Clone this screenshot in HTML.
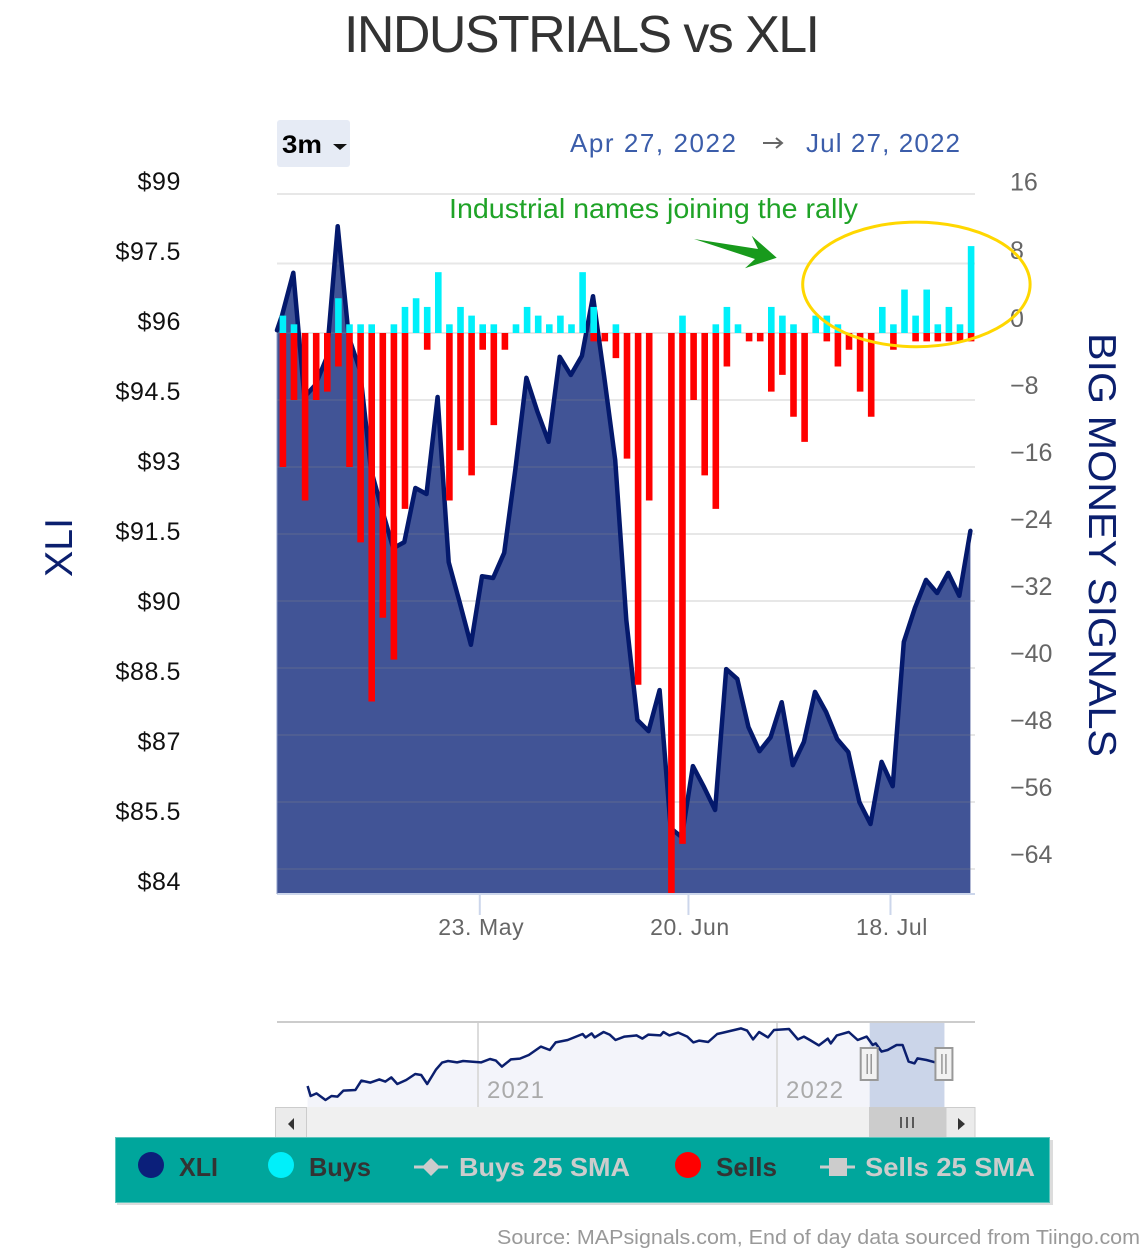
<!DOCTYPE html>
<html lang="en">
<head>
<meta charset="utf-8">
<title>INDUSTRIALS vs XLI</title>
<style>
html,body{margin:0;padding:0;background:#fff;width:1147px;height:1249px;overflow:hidden}
svg{display:block}
text{font-family:"Liberation Sans",sans-serif}
</style>
</head>
<body>
<svg id="chart" xmlns="http://www.w3.org/2000/svg" width="1147" height="1249" viewBox="0 0 1147 1249">
  <rect x="0" y="0" width="1147" height="1249" fill="#fff"/>
  <text x="344" y="52" font-size="52" fill="#333" textLength="476" lengthAdjust="spacing">INDUSTRIALS vs XLI</text>

  <g>
    <rect x="277" y="120" width="73" height="47" rx="3" fill="#e6ebf5"/>
    <text x="282" y="153" font-size="25" font-weight="bold" fill="#000" textLength="40" lengthAdjust="spacingAndGlyphs">3m</text>
    <polygon points="333,144 347,144 340,150" fill="#111"/>
  </g>
  <text x="570" y="152" font-size="26" fill="#3b5daa" textLength="166" lengthAdjust="spacing">Apr 27, 2022</text>
  <g stroke="#666" fill="none" stroke-width="2">
    <line x1="763" y1="143" x2="782" y2="143"/>
    <polyline points="776,138 782,143 776,148"/>
  </g>
  <text x="806" y="152" font-size="26" fill="#3b5daa" textLength="154" lengthAdjust="spacing">Jul 27, 2022</text>

  <g id="area-layer"></g>
  <g id="grid-layer"></g>
  <g id="line-layer"></g>
  <g id="bar-layer"></g>
  <g id="axis-layer"></g>

  <text x="449" y="218" font-size="28" fill="#1fa327" textLength="409" lengthAdjust="spacingAndGlyphs">Industrial names joining the rally</text>
  <polygon points="694,239 758,249 751.7,235.7 776.7,257.7 745,268.3 755,259" fill="#189a1c"/>
  <ellipse cx="916.4" cy="284.4" rx="113.7" ry="62.3" fill="none" stroke="#ffd700" stroke-width="3"/>

  <text transform="translate(72,577) rotate(-90)" font-size="39" fill="#0b1f6e" textLength="59" lengthAdjust="spacingAndGlyphs">XLI</text>
  <text transform="translate(1089,333) rotate(90)" font-size="39" fill="#0b1f6e" textLength="424" lengthAdjust="spacingAndGlyphs">BIG MONEY SIGNALS</text>

  <g id="nav-layer"></g>

  <g>
    <rect x="276" y="1107" width="699" height="30" fill="#f0f0f0"/>
    <rect x="275.5" y="1107.5" width="31" height="30" fill="#ebebeb" stroke="#ccc"/>
    <polygon points="294,1118 294,1130 288,1124" fill="#333"/>
    <rect x="869" y="1107" width="77" height="31" fill="#cccccc"/>
    <g stroke="#333" stroke-width="1.5">
      <line x1="901" y1="1117" x2="901" y2="1128"/>
      <line x1="907" y1="1117" x2="907" y2="1128"/>
      <line x1="913" y1="1117" x2="913" y2="1128"/>
    </g>
    <rect x="946" y="1107.5" width="29" height="30" fill="#ebebeb" stroke="#ccc"/>
    <polygon points="958,1118 958,1130 965,1124" fill="#333"/>
  </g>

  <g>
    <rect x="117" y="1140" width="936" height="65" fill="#dcdcdc"/>
    <rect x="115.5" y="1137.5" width="934" height="65" fill="#00a69c" stroke="#5cc4bc"/>
    <g>
      <circle cx="151" cy="1165" r="13" fill="#0b1f7a"/>
      <text x="179" y="1176" font-size="26" font-weight="bold" fill="#333" textLength="39" lengthAdjust="spacingAndGlyphs">XLI</text>
    </g>
    <g>
      <circle cx="281" cy="1165" r="13" fill="#00f0fa"/>
      <text x="309" y="1176" font-size="26" font-weight="bold" fill="#333" textLength="62" lengthAdjust="spacingAndGlyphs">Buys</text>
    </g>
    <g>
      <line x1="414" y1="1167" x2="448" y2="1167" stroke="#ccc" stroke-width="3"/>
      <polygon points="431,1158 440,1167 431,1176 422,1167" fill="#ccc"/>
      <text x="459" y="1176" font-size="26" font-weight="bold" fill="#ccc" textLength="171" lengthAdjust="spacingAndGlyphs">Buys 25 SMA</text>
    </g>
    <g>
      <circle cx="688" cy="1165" r="13" fill="#ff0000"/>
      <text x="716" y="1176" font-size="26" font-weight="bold" fill="#333" textLength="61" lengthAdjust="spacingAndGlyphs">Sells</text>
    </g>
    <g>
      <line x1="820" y1="1167" x2="855" y2="1167" stroke="#ccc" stroke-width="3"/>
      <rect x="829" y="1158" width="18" height="18" fill="#ccc"/>
      <text x="865" y="1176" font-size="26" font-weight="bold" fill="#ccc" textLength="170" lengthAdjust="spacingAndGlyphs">Sells 25 SMA</text>
    </g>
  </g>

  <text x="497" y="1244" font-size="20" fill="#999" textLength="643" lengthAdjust="spacingAndGlyphs">Source: MAPsignals.com, End of day data sourced from Tiingo.com</text>
</svg>

<script>
// Main chart data (one entry per trading day)
const priceLead = 96.08;
const prices = [96.41,97.31,94.65,94.91,95.49,98.31,95.93,95.23,93.09,92.23,91.41,91.54,92.70,92.57,94.65,91.11,90.24,89.34,90.81,90.77,91.31,93.09,95.06,94.33,93.69,95.51,95.12,95.53,96.81,95.10,93.30,89.87,87.73,87.49,88.37,85.41,85.22,86.74,86.29,85.80,88.82,88.61,87.58,87.06,87.36,88.11,86.76,87.26,88.33,87.90,87.32,87.04,85.97,85.50,86.83,86.31,89.40,90.13,90.73,90.45,90.88,90.39,91.78];
const buys = [2,1,0,0,0,4,1,1,1,0,1,3,4,3,7,1,3,2,1,1,0,1,3,2,1,2,1,7,3,0,1,0,0,0,0,0,2,0,0,1,3,1,0,0,3,2,1,0,2,2,1,0,0,0,3,1,5,2,5,1,3,1,10];
const sells = [16,8,20,8,7,4,16,25,44,34,39,21,0,2,0,20,14,17,2,11,2,0,0,0,0,0,0,0,1,1,3,15,42,20,0,67,61,8,17,21,4,0,1,1,7,5,10,13,0,1,4,2,7,10,0,2,0,1,1,1,1,1,1];
const priceTicks = [99,97.5,96,94.5,93,91.5,90,88.5,87,85.5,84];
const priceTickLabels = ["$99","$97.5","$96","$94.5","$93","$91.5","$90","$88.5","$87","$85.5","$84"];
const signalTicks = [16,8,0,-8,-16,-24,-32,-40,-48,-56,-64];
const signalTickLabels = ["16","8","0","\u22128","\u221216","\u221224","\u221232","\u221240","\u221248","\u221256","\u221264"];
const dateTickIndexes = [17.8,36.6,54.8];
const dateTickLabels = ["23. May","20. Jun","18. Jul"];

// Navigator data (decimal year, price)
const navDates = [2020.43,2020.44,2020.46,2020.49,2020.51,2020.53,2020.55,2020.59,2020.61,2020.64,2020.67,2020.69,2020.71,2020.73,2020.76,2020.79,2020.81,2020.83,2020.86,2020.88,2020.90,2020.93,2020.95,2021.01,2021.04,2021.06,2021.08,2021.11,2021.14,2021.17,2021.21,2021.24,2021.26,2021.30,2021.35,2021.36,2021.38,2021.39,2021.42,2021.44,2021.46,2021.49,2021.53,2021.55,2021.57,2021.61,2021.62,2021.64,2021.67,2021.70,2021.72,2021.74,2021.77,2021.80,2021.82,2021.88,2021.90,2021.92,2021.94,2021.97,2021.99,2022.04,2022.07,2022.09,2022.11,2022.14,2022.17,2022.18,2022.20,2022.24,2022.27,2022.30,2022.32,2022.33,2022.35,2022.37,2022.40,2022.42,2022.44,2022.46,2022.47,2022.50,2022.53];
const navValues = [77.0,72.0,73.3,70.0,72.0,71.7,74.7,75.0,79.7,78.7,80.3,79.2,81.3,78.0,80.0,83.0,82.5,78.0,85.3,88.7,89.5,88.8,89.5,88.8,90.5,89.7,86.7,90.3,90.7,92.5,96.7,95.0,98.8,100.0,103.0,101.3,103.3,101.3,104.0,102.7,100.0,101.7,102.3,100.7,102.7,102.3,104.0,102.3,103.7,101.7,98.8,99.7,99.0,103.0,103.7,105.8,104.7,100.3,104.0,101.3,105.0,105.5,100.3,101.7,100.0,97.3,100.7,98.3,102.3,104.0,100.0,101.7,97.5,98.3,94.2,95.0,97.5,97.5,89.2,88.3,90.8,90.0,88.8];
const navYearTicks = [2021,2022];
const navYearLabels = ["2021","2022"];
const navSelection = [2022.31,2022.56];

// Axis functions
const plotLeft = 277, plotRight = 975, plotBottom = 894;
function xIndex(i){ return 282.2 + 11.1 * i; }
function yPrice(p){ return 894 - (p - 84) * 46.67; }
function ySignal(v){ return v >= 0 ? 333 - v * 8.69 : 333 - v * 8.375; }
function xYear(t){ return 478 + (t - 2021) * 299; }
function yNav(v){ return 1010 + (115 - v) * 2; }

const NS = "http://www.w3.org/2000/svg";
function make(parent, tag, attrs, text){
  const el = document.createElementNS(NS, tag);
  for (const k in attrs) el.setAttribute(k, attrs[k]);
  if (text !== undefined) el.textContent = text;
  parent.appendChild(el);
  return el;
}
const areaLayer = document.getElementById("area-layer");
const gridLayer = document.getElementById("grid-layer");
const lineLayer = document.getElementById("line-layer");
const barLayer = document.getElementById("bar-layer");
const axisLayer = document.getElementById("axis-layer");
const navLayer = document.getElementById("nav-layer");

// XLI area + line
let linePts = plotLeft + "," + yPrice(priceLead).toFixed(1);
prices.forEach(function(p, i){
  linePts += " " + xIndex(i).toFixed(1) + "," + yPrice(p).toFixed(1);
});
const lastX = xIndex(prices.length - 1).toFixed(1);
const area = make(areaLayer, "polygon", {points: plotLeft + "," + plotBottom + " " + linePts + " " + lastX + "," + plotBottom, fill: "#415496"});



// Gridlines
signalTicks.forEach(function(v, i){
  const g = make(gridLayer, "line", {x1: plotLeft, x2: plotRight, y1: ySignal(v), y2: ySignal(v), stroke: "#888", "stroke-opacity": 0.2, "stroke-width": 2});
  
  
  const labelY = ySignal(v) - 6 + (v > 0 ? v * 0.17 : 0);
  const t = make(axisLayer, "text", {x: 1010, y: labelY, "font-size": 25, fill: "#666"}, signalTickLabels[i]);
  
  
});

const line = make(lineLayer, "polyline", {points: linePts, fill: "none", stroke: "#04196c", "stroke-width": 4.5, "stroke-linejoin": "round", "stroke-linecap": "round"});



// Bars
const barW = 6.6;
const barShift = 0.7;
sells.forEach(function(v, i){
  if (!v) return;
  const y0 = ySignal(0);
  const b = make(barLayer, "rect", {x: xIndex(i) + barShift - barW / 2, y: y0, width: barW, height: ySignal(-v) - y0, fill: "#ff0000"});
  
  
});
buys.forEach(function(v, i){
  if (!v) return;
  const y0 = ySignal(0);
  const b = make(barLayer, "rect", {x: xIndex(i) + barShift - barW / 2, y: ySignal(v), width: barW, height: y0 - ySignal(v), fill: "#00f0fa"});
  
  
});

// Left axis labels
priceTicks.forEach(function(p, i){
  const t = make(axisLayer, "text", {x: 181, y: yPrice(p) - 4, "font-size": 25, fill: "#111", "text-anchor": "end", "letter-spacing": 0.6}, priceTickLabels[i]);
  
  
});

// X axis
const xAxisLine = make(axisLayer, "line", {x1: plotLeft, x2: plotRight, y1: plotBottom, y2: plotBottom, stroke: "#ccd6eb", "stroke-width": 2});


const leftEdge = make(axisLayer, "line", {x1: plotLeft, x2: plotLeft, y1: ySignal(0), y2: plotBottom, stroke: "#8c9cc8", "stroke-width": 1});


dateTickIndexes.forEach(function(d, i){
  const x = xIndex(d);
  const tick = make(axisLayer, "line", {x1: x, x2: x, y1: plotBottom, y2: 915, stroke: "#ccd6eb", "stroke-width": 2});
  
  
  const t = make(axisLayer, "text", {x: x + 1.5, y: 935, "font-size": 23, fill: "#666", "text-anchor": "middle", "letter-spacing": 0.6}, dateTickLabels[i]);
  
  
});

// Navigator
let navPts = "";
navDates.forEach(function(t, i){
  navPts += xYear(t).toFixed(1) + "," + yNav(navValues[i]).toFixed(1) + " ";
});
const navTop = make(navLayer, "line", {x1: plotLeft, x2: plotRight, y1: 1022, y2: 1022, stroke: "#ccc", "stroke-width": 2});


const navArea = make(navLayer, "polygon", {points: xYear(navDates[0]).toFixed(1) + ",1107 " + navPts + xYear(navDates[navDates.length - 1]).toFixed(1) + ",1107", fill: "#f3f4fa"});


const selX0 = xYear(navSelection[0]), selX1 = xYear(navSelection[1]);
const sel = make(navLayer, "rect", {x: selX0, y: 1023, width: selX1 - selX0, height: 84, fill: "#cbd5e9"});


navYearTicks.forEach(function(t, i){
  const x = xYear(t);
  const l = make(navLayer, "line", {x1: x, x2: x, y1: 1023, y2: 1107, stroke: "#dcdcdc", "stroke-width": 2});
  
  
  const txt = make(navLayer, "text", {x: x + 9, y: 1098, "font-size": 24, fill: "#aaa", textLength: 57, lengthAdjust: "spacing"}, navYearLabels[i]);
  
  
});
const navLine = make(navLayer, "polyline", {points: navPts, fill: "none", stroke: "#0b1f6e", "stroke-width": 2.5, "stroke-linejoin": "round"});


[selX0, selX1].forEach(function(x){
  const h = make(navLayer, "rect", {x: x - 9, y: 1048, width: 17, height: 32, fill: "#f2f2f2", stroke: "#999", "stroke-width": 2});
  
  
  [-2.5, 1.5].forEach(function(dx){
    const g = make(navLayer, "line", {x1: x + dx, x2: x + dx, y1: 1054, y2: 1074, stroke: "#888", "stroke-width": 1.3});
    
    
  });
});
</script>
</body>
</html>
